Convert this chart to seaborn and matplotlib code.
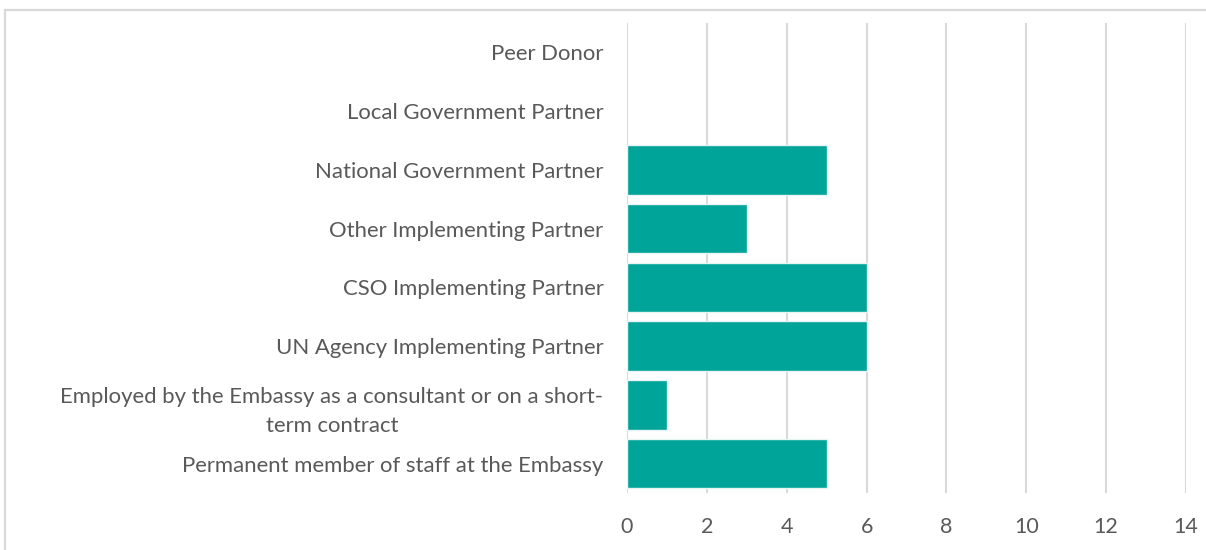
import matplotlib
matplotlib.use("Agg")
import matplotlib.pyplot as plt
import seaborn as sns
import pandas as pd
from matplotlib.patches import Rectangle

categories = [
    "Peer Donor",
    "Local Government Partner",
    "National Government Partner",
    "Other Implementing Partner",
    "CSO Implementing Partner",
    "UN Agency Implementing Partner",
    "Employed by the Embassy as a consultant or on a short-\nterm contract",
    "Permanent member of staff at the Embassy",
]
values = [0, 0, 5, 3, 6, 6, 1, 5]
x_ticks = [0, 2, 4, 6, 8, 10, 12, 14]

sns.set_theme(style="white")
plt.rcParams['font.family'] = ['Lato', 'DejaVu Sans']

df = pd.DataFrame({"category": categories, "value": values})

fig = plt.figure(figsize=(12.06, 5.5), dpi=100)
ax = fig.add_axes([627/1206, 1-493/550, (1186-627)/1206, (493-23)/550])

sns.barplot(data=df, y="category", x="value", order=categories, orient="h",
            color="#00A499", saturation=1, width=0.84, edgecolor="#e6f5f4",
            linewidth=1, ax=ax)
for p in ax.patches:
    if p.get_width() == 0:
        p.set_visible(False)

ax.set_xlim(0, 14)
ax.set_ylim(len(categories) - 0.5, -0.5)
ax.set_xticks(x_ticks)
ax.set_xticklabels([str(t) for t in x_ticks])
ax.xaxis.grid(True, color="#d9d9d9", linewidth=1.5)
ax.yaxis.grid(False)
ax.set_axisbelow(True)
for s in ax.spines.values():
    s.set_visible(False)
ax.set_xlabel("")
ax.set_ylabel("")
ax.tick_params(axis="y", length=0, pad=17, labelsize=15.9, labelcolor="#595959")
ax.tick_params(axis="x", length=0, pad=17, labelsize=15.5, labelcolor="#595959")
for lbl in ax.get_yticklabels():
    lbl.set_multialignment("center")
    lbl.set_linespacing(1.6)

fig.patches.append(Rectangle((5/1206, -0.05), 1.2, 1 - 9.5/550 + 0.05,
                             transform=fig.transFigure, fill=False,
                             edgecolor="#d9d9d9", linewidth=1.6, zorder=0))

fig.savefig("out.png", dpi=100)
